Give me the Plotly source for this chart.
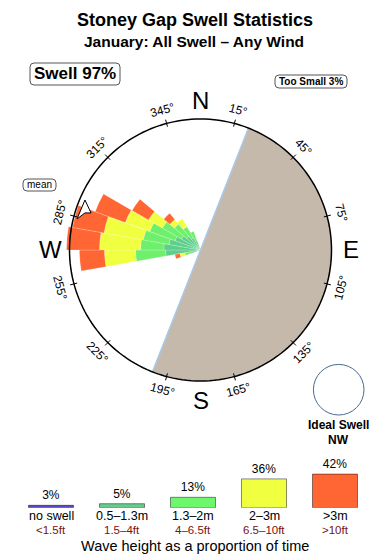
import math
import plotly.graph_objects as go

# ---------------- data ----------------
directions = [255, 265, 275, 285, 295, 305, 315, 325, 335]          # bin centres (deg)
bin_width = 10
# stacked radial lengths (rim of compass = 100)
r_small = [7.6, 26.7, 28.0, 24.4, 20.6, 16.8, 13.7, 10.7, 7.6]     # 0.5-1.3m
r_mid = [4.6, 22.9, 17.8, 19.9, 20.6, 16.8, 12.3, 9.9, 7.7]        # 1.3-2m
r_large = [3.8, 23.7, 31.3, 30.5, 19.9, 12.2, 4.5, 6.9, 0.0]       # 2-3m
r_huge = [3.8, 19.1, 25.2, 24.4, 24.4, 14.5, 6.1, 0.0, 0.0]        # >3m

land_from, land_to = 21.5, 201.5       # shaded (land) half of the rose
mean_direction = 290

angle_ticks = [15, 45, 75, 105, 135, 165, 195, 225, 255, 285, 315, 345]
cardinals = ["N", "E", "S", "W"]
cardinal_angles = [0, 90, 180, 270]

legend_pct = [3, 5, 13, 36, 42]
legend_m = ["no swell", "0.5–1.3m", "1.3–2m", "2–3m", ">3m"]
legend_ft = ["<1.5ft", "1.5–4ft", "4–6.5ft", "6.5–10ft", ">10ft"]
legend_colors = ["#5548c8", "#66cc88", "#6cf76c", "#f0ff40", "#ff6633"]

title = "Stoney Gap Swell Statistics"
subtitle = "January: All Swell – Any Wind"
swell_pct = 97
small_pct = 3
ideal_dir = "NW"

# ---------------- geometry ----------------
W, H = 390, 560
CX, CY, RIM = 200.5, 250.0, 131.0
RMAX = 104.0
RPX = RIM * RMAX / 100.0
FONT = "Liberation Sans, Arial, sans-serif"


def px(x):
    return x / W


def py(y):
    return 1 - y / H


fig = go.Figure()

# land sector
fig.add_trace(go.Barpolar(r=[100], theta=[(land_from + land_to) / 2], width=[land_to - land_from],
                          marker=dict(color="#c5b9ac", line=dict(width=0)), hoverinfo="skip"))
fig.add_trace(go.Scatterpolar(r=[100, 0, 100], theta=[land_from, land_from, land_to], mode="lines",
                              line=dict(color="#a9c8e8", width=1.5), hoverinfo="skip"))

rose_cols = ["#5ccf8a", "#6ef06c", "#f0ff40", "#ff6633"]
for vals, col in zip([r_small, r_mid, r_large, r_huge], rose_cols):
    fig.add_trace(go.Barpolar(r=vals, theta=directions, width=[bin_width] * len(directions),
                              marker=dict(color=col, line=dict(color="rgba(255,255,255,0.35)", width=0.6)),
                              hoverinfo="skip"))

# rim
circ = list(range(0, 361, 2))
fig.add_trace(go.Scatterpolar(r=[100] * len(circ), theta=circ, mode="lines",
                              line=dict(color="black", width=1.5), hoverinfo="skip"))
# ticks
tr, tt = [], []
for a in angle_ticks:
    tr += [97.5, 103, None]
    tt += [a, a, None]
fig.add_trace(go.Scatterpolar(r=tr, theta=tt, mode="lines", line=dict(color="black", width=1),
                              hoverinfo="skip"))

# mean arrow
arr_dt = [3.4, -1.3, -2.2, -5.9, 3.4]
arr_r = [96.1, 88.2, 92.6, 97.2, 96.1]
fig.add_trace(go.Scatterpolar(r=arr_r, theta=[mean_direction + d for d in arr_dt], mode="lines",
                              fill="toself", fillcolor="white", line=dict(color="black", width=1),
                              hoverinfo="skip"))

# legend bars
fig.add_trace(go.Bar(x=list(range(len(legend_pct))), y=legend_pct, width=0.634,
                     marker=dict(color=legend_colors, line=dict(color="rgba(0,0,0,0.45)", width=1)),
                     text=[f"{p}%" for p in legend_pct], textposition="outside",
                     textfont=dict(size=12, color="black", family=FONT), cliponaxis=False,
                     xaxis="x", yaxis="y", hoverinfo="skip"))

ann = []
# titles
ann.append(dict(text=f"<b>{title}</b>", x=px(195), y=py(20), font=dict(size=18)))
ann.append(dict(text=f"<b>{subtitle}</b>", x=px(194), y=py(42), font=dict(size=15.5)))
ann.append(dict(text=f"<b>Swell {swell_pct}%</b>", x=px(75), y=py(74), font=dict(size=17)))
ann.append(dict(text=f"<b>Too Small {small_pct}%</b>", x=px(311), y=py(81.5), font=dict(size=10)))
ann.append(dict(text="mean", x=px(39.5), y=py(185), font=dict(size=10)))
ann.append(dict(text="<b>Ideal Swell</b>", x=px(338.5), y=py(425), font=dict(size=12)))
ann.append(dict(text=f"<b>{ideal_dir}</b>", x=px(338.5), y=py(440), font=dict(size=12)))
ann.append(dict(text="Wave height as a proportion of time", x=px(195), y=py(545.5), font=dict(size=14.5)))

# compass labels
LR = 145
for a in angle_ticks:
    x = CX + LR * math.sin(math.radians(a))
    y = CY - LR * math.cos(math.radians(a))
    ang = a if a < 90 or a > 270 else a - 180
    if ang > 180:
        ang -= 360
    ann.append(dict(text=f"{a}°", x=px(x), y=py(y), textangle=ang, font=dict(size=12)))
CR = 150
for lab, a in zip(cardinals, cardinal_angles):
    x = CX + CR * math.sin(math.radians(a))
    y = CY - CR * math.cos(math.radians(a))
    ann.append(dict(text=lab, x=px(x), y=py(y), font=dict(size=24)))

for i, (m, ft) in enumerate(zip(legend_m, legend_ft)):
    ann.append(dict(text=m, x=i, xref="x", y=py(515.5), font=dict(size=12.5)))
    ann.append(dict(text=ft, x=i, xref="x", y=py(529.5), font=dict(size=11.5), font_color="#7a1010"))

annotations = []
for a in ann:
    d = dict(xref="paper", yref="paper", showarrow=False, xanchor="center", yanchor="middle")
    fc = a.pop("font_color", "black")
    d.update(a)
    f = dict(family=FONT, color=fc)
    f.update(a.get("font", {}))
    d["font"] = f
    annotations.append(d)


def rounded(x0, y0, x1, y1, r):
    X0, X1 = px(x0), px(x1)
    Y0, Y1 = py(y0), py(y1)
    rx, ry = r / W, r / H
    return (f"M {X0+rx},{Y0} L {X1-rx},{Y0} Q {X1},{Y0} {X1},{Y0-ry} L {X1},{Y1+ry} "
            f"Q {X1},{Y1} {X1-rx},{Y1} L {X0+rx},{Y1} Q {X0},{Y1} {X0},{Y1+ry} "
            f"L {X0},{Y0-ry} Q {X0},{Y0} {X0+rx},{Y0} Z")


shapes = [
    dict(type="path", xref="paper", yref="paper", path=rounded(30, 63, 120, 85, 4),
         line=dict(color="#555", width=1)),
    dict(type="path", xref="paper", yref="paper", path=rounded(275, 75, 347, 88, 4),
         line=dict(color="#555", width=1)),
    dict(type="path", xref="paper", yref="paper", path=rounded(23, 179, 56, 191, 4),
         line=dict(color="#555", width=1)),
    dict(type="circle", xref="paper", yref="paper", x0=px(313.4), x1=px(364), y0=py(364.4), y1=py(415),
         line=dict(color="#4a6a90", width=1)),
]

fig.update_layout(
    width=W, height=H, margin=dict(l=0, r=0, t=0, b=0),
    paper_bgcolor="white", plot_bgcolor="rgba(0,0,0,0)", showlegend=False,
    polar=dict(
        domain=dict(x=[px(CX - RPX), px(CX + RPX)], y=[py(CY + RPX), py(CY - RPX)]),
        bgcolor="rgba(0,0,0,0)", barmode="stack",
        radialaxis=dict(range=[0, RMAX], visible=False),
        angularaxis=dict(rotation=90, direction="clockwise", visible=False),
    ),
    xaxis=dict(domain=[0, 1], range=[-51 / 71, (W - 51) / 71], visible=False, fixedrange=True),
    yaxis=dict(domain=[py(507.7), py(507.7 - 48)], range=[0, 60], visible=False, fixedrange=True),
    annotations=annotations, shapes=shapes,
)

fig.write_html("out.html")
